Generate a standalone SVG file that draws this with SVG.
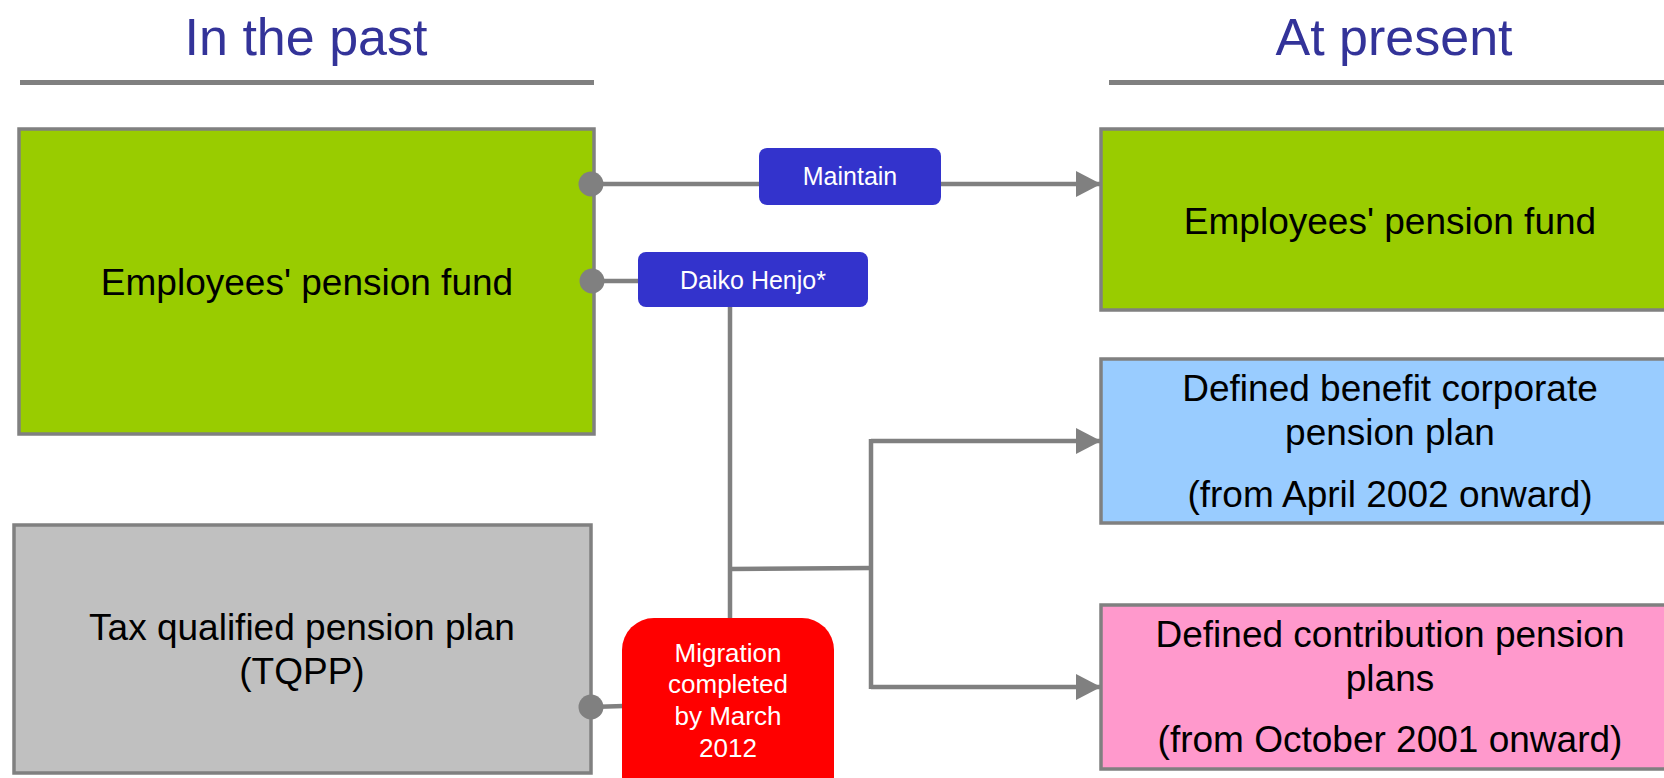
<svg xmlns="http://www.w3.org/2000/svg" width="1664" height="778" viewBox="0 0 1664 778">
<style>
.title{font-family:"Liberation Sans",Arial,sans-serif;font-size:52px;fill:#333399;text-anchor:middle}
.rule{stroke:#808080;stroke-width:5}
.box{stroke:#808080;stroke-width:3.5}
.t{font-family:"Liberation Sans",Arial,sans-serif;font-size:37px;fill:#000;text-anchor:middle}
.lbl{font-family:"Liberation Sans",Arial,sans-serif;font-size:25px;fill:#fff;text-anchor:middle}
.conn{stroke:#808080;stroke-width:4.5;fill:none}
.dot{fill:#808080}
</style>
<defs>
<marker id="arr" markerUnits="userSpaceOnUse" markerWidth="26" markerHeight="26" refX="25" refY="13" orient="auto">
<path d="M0,0 L25,13 L0,26 Z" fill="#808080"/>
</marker>
</defs>
<g id="headers">
<text class="title" x="306" y="55">In the past</text>
<line class="rule" x1="20" y1="82.5" x2="594" y2="82.5"/>
<text class="title" x="1394" y="55">At present</text>
<line class="rule" x1="1109" y1="82.5" x2="1664" y2="82.5"/>
</g>
<g id="connectors">
<path class="conn" d="M591,184 L1101,184" marker-end="url(#arr)"/>
<line class="conn" x1="591" y1="281" x2="640" y2="281"/>
<line class="conn" x1="730" y1="307" x2="730" y2="620"/>
<line class="conn" x1="730" y1="569" x2="871" y2="568"/>
<line class="conn" x1="871" y1="439" x2="871" y2="689"/>
<path class="conn" d="M871,441 L1101,441" marker-end="url(#arr)"/>
<path class="conn" d="M871,687 L1101,687" marker-end="url(#arr)"/>
<line class="conn" x1="591" y1="707" x2="624" y2="706"/>
</g>
<g id="past-epf">
<rect class="box" x="19" y="129" width="575" height="305" fill="#99cc00"/>
<text class="t" x="307" y="295">Employees' pension fund</text>
</g>
<g id="past-tqpp">
<rect class="box" x="14" y="525" width="577" height="248" fill="#c0c0c0"/>
<text class="t" x="302" y="640">Tax qualified pension plan</text>
<text class="t" x="302" y="684">(TQPP)</text>
</g>
<g id="present-epf">
<rect class="box" x="1101" y="129" width="580" height="181" fill="#99cc00"/>
<text class="t" x="1390" y="234">Employees' pension fund</text>
</g>
<g id="present-db">
<rect class="box" x="1101" y="359" width="580" height="164" fill="#99ccff"/>
<text class="t" x="1390" y="401">Defined benefit corporate</text>
<text class="t" x="1390" y="445">pension plan</text>
<text class="t" x="1390" y="507">(from April 2002 onward)</text>
</g>
<g id="present-dc">
<rect class="box" x="1101" y="605" width="580" height="164" fill="#ff99cc"/>
<text class="t" x="1390" y="647">Defined contribution pension</text>
<text class="t" x="1390" y="691">plans</text>
<text class="t" x="1390" y="752">(from October 2001 onward)</text>
</g>
<g id="dots">
<circle class="dot" cx="591" cy="184" r="12.5"/>
<circle class="dot" cx="592" cy="281" r="12.5"/>
<circle class="dot" cx="591" cy="707" r="12.5"/>
</g>
<g id="label-maintain">
<rect x="759" y="148" width="182" height="57" rx="8" fill="#3333cc"/>
<text class="lbl" x="850" y="185">Maintain</text>
</g>
<g id="label-daiko">
<rect x="638" y="252" width="230" height="55" rx="8" fill="#3333cc"/>
<text class="lbl" x="753" y="289">Daiko Henjo*</text>
</g>
<g id="label-migration">
<rect x="622" y="618" width="212" height="190" rx="32" fill="#ff0000"/>
<text class="lbl" x="728" y="662" style="font-size:26px">Migration</text>
<text class="lbl" x="728" y="693" style="font-size:26px">completed</text>
<text class="lbl" x="728" y="725" style="font-size:26px">by March</text>
<text class="lbl" x="728" y="757" style="font-size:26px">2012</text>
</g>
</svg>
